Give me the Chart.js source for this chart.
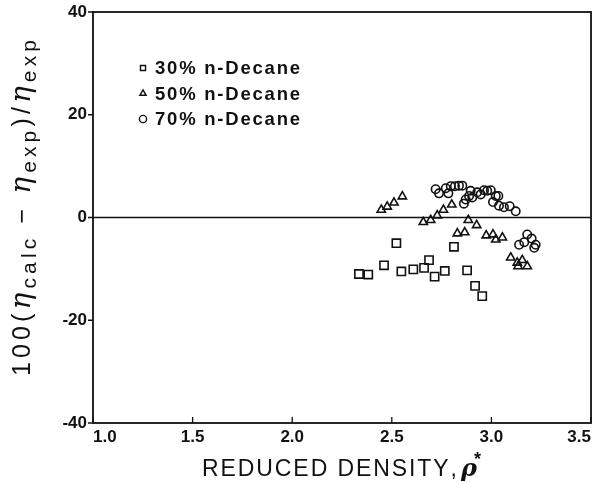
<!DOCTYPE html>
<html>
<head>
<meta charset="utf-8">
<script src="https://cdn.jsdelivr.net/npm/chart.js@4/dist/chart.umd.min.js"></script>
<style>
  html, body { margin: 0; padding: 0; background: #fff; }
  #wrap { width: 595px; height: 482px; }
</style>
</head>
<body>
<div id="wrap"><canvas id="chart" width="595" height="482"></canvas></div>
<script>
// reduced density (x) and percent deviation (y)
const dec30x = [2.335, 2.382, 2.461, 2.523, 2.548, 2.608, 2.662, 2.687, 2.715, 2.766, 2.812, 2.878, 2.918, 2.954];
const dec30y = [-11.0, -11.1, -9.3, -5.0, -10.5, -10.1, -9.8, -8.3, -11.5, -10.4, -5.7, -10.3, -13.3, -15.3];

const dec50x = [2.447, 2.477, 2.511, 2.553, 2.658, 2.695, 2.728, 2.759, 2.801, 2.884, 2.926, 2.829, 2.866, 2.974, 3.008, 3.022, 3.055, 3.097, 3.130, 3.155, 3.180, 3.134];
const dec50y = [1.5, 2.1, 2.9, 4.1, -0.9, -0.5, 0.4, 1.5, 2.5, -0.5, -1.5, -3.1, -2.9, -3.5, -3.3, -4.3, -3.9, -7.8, -8.8, -8.3, -9.5, -9.5];

const dec70x = [2.720, 2.737, 2.771, 2.784, 2.796, 2.817, 2.837, 2.854, 2.896, 2.888, 2.871, 2.862, 2.904, 2.929, 2.946, 2.963, 2.979, 2.997, 3.022, 3.035, 3.008, 3.038, 3.063, 3.092, 3.122, 3.180, 3.202, 3.222, 3.215, 3.165, 3.139];
const dec70y = [5.5, 4.7, 5.7, 4.7, 6.1, 6.1, 6.2, 6.2, 5.2, 4.2, 3.5, 2.7, 3.9, 4.9, 4.5, 5.3, 5.2, 5.3, 4.2, 4.2, 3.0, 2.3, 2.0, 2.2, 1.2, -3.3, -4.1, -5.3, -5.9, -4.8, -5.3];

const seriesNames = ["30% n-Decane", "50% n-Decane", "70% n-Decane"];
const xTicks = [1.0, 1.5, 2.0, 2.5, 3.0, 3.5];
const yTicks = [-40, -20, 0, 20, 40];

function pts(xs, ys) {
  return xs.map((x, i) => ({ x: x, y: ys[i] }));
}

const ink = "#111";
const sans = "'Liberation Sans', Arial, sans-serif";

// draw a list of [text, font, shift] pieces char by char, stretched to a target length
function drawSpread(ctx, parts, x0, y0, target) {
  let natural = 0, n = 0;
  parts.forEach(p => {
    ctx.font = p[1];
    natural += ctx.measureText(p[0]).width;
    n += p[0].length;
  });
  const gap = Math.max(0, (target - natural) / Math.max(1, n - 1));
  let cx = x0;
  parts.forEach(p => {
    ctx.font = p[1];
    for (const ch of p[0]) {
      ctx.fillText(ch, cx, y0 + p[2]);
      cx += ctx.measureText(ch).width + gap;
    }
  });
}

// pin the plot box to where the original frame sits
const box = { left: 93, right: 591, top: 12, bottom: 423 };
const pinArea = {
  id: "pinArea",
  afterLayout(chart) {
    const a = chart.chartArea;
    Object.assign(a, box);
    a.width = box.right - box.left;
    a.height = box.bottom - box.top;
    const xs = chart.scales.x, ys = chart.scales.y;
    xs.left = box.left; xs.right = box.right; xs.width = a.width;
    xs.top = box.bottom; xs.bottom = 482; xs.height = 482 - box.bottom;
    xs.configure();
    ys.top = box.top; ys.bottom = box.bottom; ys.height = a.height;
    ys.left = 0; ys.right = box.left; ys.width = box.left;
    ys.configure();
  }
};

// frame, ticks, zero line, axis titles and legend
const decor = {
  id: "decor",
  afterDatasetsDraw(chart) {
    const ctx = chart.ctx;
    const a = chart.chartArea;
    const xs = chart.scales.x, ys = chart.scales.y;
    ctx.save();
    ctx.strokeStyle = ink;
    ctx.lineWidth = 1.8;
    ctx.strokeRect(a.left, a.top, a.right - a.left, a.bottom - a.top);

    ctx.lineWidth = 1.3;
    ctx.beginPath();
    xTicks.forEach(v => {
      const p = xs.getPixelForValue(v);
      ctx.moveTo(p, a.bottom);
      ctx.lineTo(p, a.bottom - 6);
    });
    yTicks.forEach(v => {
      const p = ys.getPixelForValue(v);
      ctx.moveTo(a.left, p);
      ctx.lineTo(a.left - 5, p);
    });
    ctx.stroke();

    const z = ys.getPixelForValue(0);
    ctx.lineWidth = 1.5;
    ctx.beginPath();
    ctx.moveTo(a.left, z);
    ctx.lineTo(a.right, z);
    ctx.stroke();

    ctx.fillStyle = ink;
    ctx.textAlign = "left";
    ctx.textBaseline = "alphabetic";

    // x title
    drawSpread(ctx, [["REDUCED DENSITY,", "23px " + sans, 0]], 202, 476, 252);
    ctx.font = "italic bold 24px 'DejaVu Serif', serif";
    ctx.fillText("ρ", 461, 476);
    ctx.font = "bold 18px " + sans;
    ctx.fillText("*", 474, 465);

    // y title, rotated, with subscripts
    ctx.save();
    ctx.translate(30, 376);
    ctx.rotate(-Math.PI / 2);
    const big = "25px " + sans;
    const eta = "italic 28px 'DejaVu Serif', serif";
    const sub = "21px " + sans;
    drawSpread(ctx, [
      ["100(", big, 0], ["η", eta, 0], ["calc", sub, 6],
      [" − ", big, 0], ["η", eta, 0], ["exp", sub, 6],
      [")/", big, 0], ["η", eta, 0], ["exp", sub, 6]
    ], 0, 0, 336);
    ctx.restore();

    // legend
    const styles = ["rect", "triangle", "circle"];
    ctx.textBaseline = "middle";
    seriesNames.forEach((name, i) => {
      const ly = 68 + i * 25.5;
      ctx.save();
      ctx.lineWidth = 1.4;
      ctx.strokeStyle = ink;
      ctx.fillStyle = "rgba(0,0,0,0)";
      Chart.helpers.drawPoint(ctx, { pointStyle: styles[i], radius: 3.6, rotation: 0, borderWidth: 1.4 }, 143, ly);
      ctx.restore();
      drawSpread(ctx, [[name, "bold 18.5px " + sans, 0]], 155, ly + 1, 145);
    });
    ctx.restore();
  }
};

const marker = { backgroundColor: "rgba(0,0,0,0)", borderColor: ink, borderWidth: 1.6, showLine: false };

new Chart(document.getElementById("chart"), {
  type: "scatter",
  data: {
    datasets: [
      Object.assign({ label: seriesNames[0], data: pts(dec30x, dec30y), pointStyle: "rect", pointRadius: 5.8 }, marker),
      Object.assign({ label: seriesNames[1], data: pts(dec50x, dec50y), pointStyle: "triangle", pointRadius: 4.8 }, marker),
      Object.assign({ label: seriesNames[2], data: pts(dec70x, dec70y), pointStyle: "circle", pointRadius: 4.2 }, marker)
    ]
  },
  options: {
    responsive: false,
    animation: false,
    events: [],
    layout: { padding: { top: 12, right: 4, left: 0, bottom: 0 } },
    plugins: { legend: { display: false }, tooltip: { enabled: false } },
    scales: {
      x: {
        type: "linear",
        min: 1.0, max: 3.5,
        afterBuildTicks: s => { s.ticks = xTicks.map(v => ({ value: v })); },
        afterFit: s => { s.height = 59; },
        grid: { display: false, drawTicks: false },
        border: { display: false },
        ticks: {
          color: ink,
          align: "inner",
          padding: 0,
          font: { family: sans, size: 17, weight: "bold", lineHeight: 1.7 },
          callback: v => v.toFixed(1)
        }
      },
      y: {
        type: "linear",
        min: -40, max: 40,
        afterBuildTicks: s => { s.ticks = yTicks.map(v => ({ value: v })); },
        afterFit: s => { s.width = 93; },
        grid: { display: false, drawTicks: false },
        border: { display: false },
        ticks: {
          color: ink,
          padding: 6,
          font: { family: sans, size: 17, weight: "bold" }
        }
      }
    }
  },
  plugins: [pinArea, decor]
});
</script>
</body>
</html>
